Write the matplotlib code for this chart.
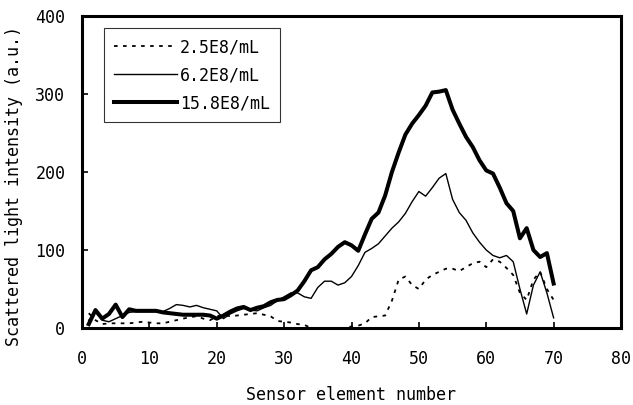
import matplotlib
matplotlib.use("Agg")
import matplotlib.pyplot as plt
import numpy as np

plt.rcParams['font.family'] = ['DejaVu Sans Mono', 'Noto Sans CJK JP']

element = list(range(1, 71))

conc_2_5 = [19, 10, 5, 6, 6, 6, 6, 7, 8, 7,
            6, 6, 8, 10, 12, 14, 15, 12, 10, 15,
            17, 15, 16, 17, 18, 19, 17, 15, 9, 8,
            7, 5, 4, 0, 0, 0, 0, 0, 0, 2,
            3, 6, 14, 15, 16, 35, 62, 66, 55, 50,
            62, 68, 72, 76, 76, 73, 78, 83, 85, 78,
            88, 85, 77, 68, 45, 36, 62, 72, 50, 36]

conc_6_2 = [10, 20, 10, 8, 12, 16, 20, 21, 21, 21,
            21, 21, 25, 30, 29, 27, 29, 26, 24, 22,
            12, 18, 22, 25, 23, 22, 26, 29, 35, 40,
            45, 45, 40, 38, 52, 60, 60, 55, 58, 66,
            80, 97, 102, 108, 118, 128, 136, 147, 162, 175,
            169, 180, 192, 198, 165, 148, 138, 122, 110, 100,
            93, 90, 93, 85, 50, 18, 55, 72, 45, 13]

conc_15_8 = [5, 23, 12, 18, 30, 14, 24, 22, 22, 22,
             22, 20, 19, 18, 17, 17, 17, 17, 16, 12,
             16, 21, 25, 27, 23, 26, 28, 33, 36, 37,
             42, 48, 60, 74, 78, 88, 95, 104, 110, 106,
             99, 120, 140, 148, 170, 200, 225, 248, 262, 273,
             285, 302, 303, 305, 280, 262, 245, 232, 215, 202,
             198, 180, 160, 150, 115, 128, 100, 91, 96, 57]

labels = ['2.5E8/mL', '6.2E8/mL', '15.8E8/mL']
x_ticks = [0, 10, 20, 30, 40, 50, 60, 70, 80]
y_ticks = [0, 100, 200, 300, 400]

fs = 12

fig = plt.figure(figsize=(6.33, 4.05), dpi=100)
ax = fig.add_axes([82/633, 1 - 328/405, (621-82)/633, (328-16)/405])

ax.plot(element, conc_2_5, color='black', lw=1.3, linestyle=(0, (2, 3)), label=labels[0])
ax.plot(element, conc_6_2, color='black', lw=1.0, label=labels[1])
ax.plot(element, conc_15_8, color='black', lw=2.9, label=labels[2])

ax.set_xlim(0, 80)
ax.set_ylim(0, 400)
ax.set_xticks(x_ticks)
ax.set_yticks(y_ticks)
ax.tick_params(axis='both', direction='in', length=4, width=1.2, labelsize=fs)
ax.tick_params(axis='x', pad=16)
ax.tick_params(axis='y', pad=12)
for s in ax.spines.values():
    s.set_linewidth(2.2)

ax.set_xlabel('Sensor element number', fontsize=fs, labelpad=13)
ax.set_ylabel('Scattered light intensity (a.u.)', fontsize=fs)
ax.yaxis.set_label_coords(-0.11, 0.455)

leg = ax.legend(loc='upper left', bbox_to_anchor=((104-82)/539, (328-28)/312), fontsize=fs,
                frameon=True, fancybox=False, edgecolor='black', handlelength=3.8,
                handletextpad=0.15, borderpad=0.6, labelspacing=0.6, borderaxespad=0)
leg.get_frame().set_linewidth(0.8)

fig.savefig('out.png', dpi=100)
